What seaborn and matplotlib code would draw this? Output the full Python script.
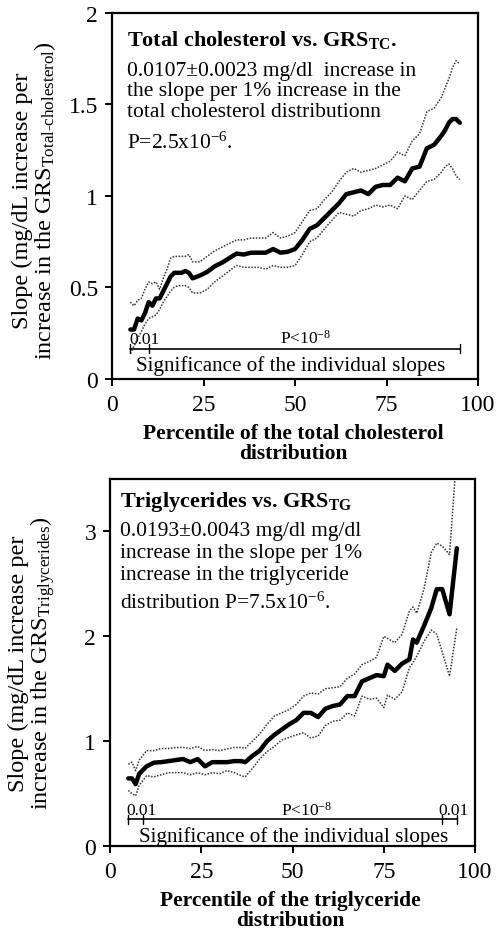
import numpy as np
import pandas as pd
import matplotlib
matplotlib.use("Agg")
import matplotlib.pyplot as plt
import seaborn as sns

# ---- data ----
# total cholesterol panel
tc_pct = [5, 6, 7, 8, 9, 10, 11, 12, 13, 14, 15, 16, 17, 18, 19, 20, 21, 22, 24, 26,
          28, 30, 32, 34, 36, 38, 40, 42, 44, 46, 48, 50, 52, 54, 56, 58, 60, 62, 64, 66,
          68, 70, 72, 74, 76, 78, 80, 82, 84, 86, 88, 90, 91, 92, 93, 94, 95]
tc_slope = [0.27, 0.27, 0.33, 0.32, 0.36, 0.42, 0.40, 0.44, 0.44, 0.48, 0.52, 0.56, 0.58, 0.58,
            0.58, 0.59, 0.58, 0.55, 0.565, 0.585, 0.615, 0.635, 0.66, 0.685, 0.68, 0.69, 0.69,
            0.69, 0.71, 0.69, 0.695, 0.71, 0.76, 0.82, 0.84, 0.88, 0.92, 0.96, 1.01, 1.02, 1.03,
            1.01, 1.05, 1.06, 1.06, 1.10, 1.08, 1.15, 1.16, 1.26, 1.28, 1.33, 1.36, 1.40, 1.42,
            1.42, 1.40]
tc_upper = [0.42, 0.40, 0.43, 0.44, 0.49, 0.53, 0.52, 0.53, 0.49, 0.55, 0.60, 0.66, 0.67, 0.67,
            0.67, 0.67, 0.68, 0.64, 0.64, 0.67, 0.70, 0.72, 0.74, 0.76, 0.76, 0.77, 0.77, 0.77,
            0.80, 0.77, 0.78, 0.80, 0.86, 0.92, 0.93, 0.98, 1.02, 1.08, 1.13, 1.15, 1.13, 1.14,
            1.15, 1.17, 1.19, 1.24, 1.22, 1.30, 1.34, 1.46, 1.48, 1.54, 1.59, 1.64, 1.70, 1.74,
            1.72]
tc_lower = [0.14, 0.18, 0.22, 0.26, 0.30, 0.33, 0.34, 0.35, 0.38, 0.42, 0.45, 0.48, 0.50, 0.51,
            0.51, 0.51, 0.50, 0.47, 0.47, 0.49, 0.53, 0.56, 0.59, 0.62, 0.61, 0.61, 0.61, 0.60,
            0.62, 0.61, 0.61, 0.62, 0.68, 0.75, 0.77, 0.82, 0.865, 0.91, 0.90, 0.89, 0.92, 0.93,
            0.95, 0.94, 0.95, 0.93, 1.00, 0.98, 1.03, 1.08, 1.09, 1.13, 1.16, 1.175, 1.15, 1.11,
            1.09]

# triglyceride panel
tg_pct = [5, 6, 7, 8, 10, 12, 14, 16, 18, 20, 22, 24, 26, 28, 30, 32, 34, 36, 37, 39,
          41, 43, 45, 47, 49, 51, 53, 55, 57, 59, 61, 63, 65, 67, 69, 71, 73, 75, 76, 78,
          80, 82, 83, 84, 86, 88, 89.5, 91, 93, 95]
tg_slope = [0.645, 0.645, 0.59, 0.69, 0.76, 0.795, 0.80, 0.81, 0.82, 0.83, 0.80, 0.83, 0.76,
            0.80, 0.80, 0.80, 0.81, 0.81, 0.80, 0.86, 0.91, 1.00, 1.06, 1.11, 1.16, 1.20, 1.27,
            1.27, 1.23, 1.31, 1.335, 1.35, 1.43, 1.43, 1.57, 1.60, 1.63, 1.62, 1.73, 1.67, 1.74,
            1.78, 1.97, 1.94, 2.10, 2.27, 2.45, 2.45, 2.21, 2.84]
tg_upper = [0.78, 0.80, 0.72, 0.82, 0.91, 0.91, 0.93, 0.93, 0.94, 0.94, 0.93, 0.95, 0.91, 0.92,
            0.91, 0.925, 0.94, 0.94, 0.93, 1.00, 1.07, 1.16, 1.24, 1.27, 1.30, 1.35, 1.43, 1.46,
            1.45, 1.50, 1.51, 1.52, 1.60, 1.64, 1.73, 1.76, 1.80, 2.00, 1.98, 1.94, 2.02, 2.24,
            2.28, 2.22, 2.45, 2.80, 2.89, 2.86, 2.78, 3.75]
tg_lower = [0.53, 0.50, 0.48, 0.58, 0.67, 0.66, 0.68, 0.70, 0.70, 0.70, 0.68, 0.70, 0.68, 0.70,
            0.69, 0.72, 0.70, 0.67, 0.66, 0.74, 0.83, 0.90, 0.95, 1.01, 1.035, 1.06, 1.08, 1.03,
            1.05, 1.15, 1.19, 1.20, 1.27, 1.24, 1.43, 1.40, 1.41, 1.32, 1.44, 1.40, 1.47, 1.70,
            1.75, 1.81, 1.95, 2.06, 2.02, 1.85, 1.62, 2.08]

# significance bar: span and the 0.01 / P<1e-8 boundaries
tc_sig_ticks = [5, 10, 95]
tg_sig_ticks = [5, 9, 91, 95]

sns.set_style("ticks")
plt.rcParams['font.family'] = ['Liberation Serif', 'DejaVu Serif']
plt.rcParams['mathtext.fontset'] = 'custom'
plt.rcParams['mathtext.rm'] = 'Liberation Serif'
plt.rcParams['mathtext.it'] = 'Liberation Serif:italic'
plt.rcParams['mathtext.bf'] = 'Liberation Serif:bold'
plt.rcParams['text.color'] = 'black'
plt.rcParams['axes.labelcolor'] = 'black'

fig = plt.figure(figsize=(4.98, 9.37), dpi=100)
ax1 = fig.add_axes([0.225, 0.5945, 0.735, 0.3906])
ax2 = fig.add_axes([0.221, 0.096, 0.733, 0.3917])


def draw_panel(ax, pct, slope, upper, lower, ymax, yticks):
    df = pd.DataFrame({'pct': pct, 'slope': slope, 'upper': upper, 'lower': lower})
    sns.lineplot(data=df, x='pct', y='upper', ax=ax, color='#333333', lw=1.1, ls=(0, (1, 1)))
    sns.lineplot(data=df, x='pct', y='lower', ax=ax, color='#333333', lw=1.1, ls=(0, (1, 1)))
    sns.lineplot(data=df, x='pct', y='slope', ax=ax, color='black', lw=3.2)
    ax.set_xlim(0, 100)
    ax.set_ylim(0, ymax)
    ax.set_xticks([0, 25, 50, 75, 100])
    ax.set_yticks(yticks)
    ax.set_yticklabels([('%g' % t) for t in yticks])
    for s in ax.spines.values():
        s.set_linewidth(1.6)
        s.set_color('black')
    ax.tick_params(length=5, width=1.4, labelsize=17, colors='black', direction='out')
    ax.tick_params(axis='x', pad=6)
    ax.tick_params(axis='y', pad=5)


def draw_sig(ax, ticks, ybar, labels):
    ax.plot([ticks[0], ticks[-1]], [ybar, ybar], color='black', lw=1.2)
    h = ax.get_ylim()[1] * 0.012
    for t in ticks:
        ax.plot([t, t], [ybar - h, ybar + h], color='black', lw=1.0)
    for (tx, ty, s, ha) in labels:
        ax.text(tx, ty, s, fontsize=12.5, ha=ha, va='bottom')


# top panel
draw_panel(ax1, tc_pct, tc_slope, tc_upper, tc_lower, 2, [0, 0.5, 1, 1.5, 2])
draw_sig(ax1, tc_sig_ticks, 0.165,
         [(4.6, 0.175, '0.01', 'left'), (53, 0.175, 'P<10$^{-8}$', 'center')])
ax1.text(48.8, 0.075, 'Significance of the individual slopes', fontsize=15.2,
         ha='center', va='center')
ax1.text(0.04, 0.929, r'Total cholesterol vs. GRS$_{\mathbf{TC}}$.', transform=ax1.transAxes,
         fontsize=16, fontweight='bold', va='center')
for y, s in [(0.844, '0.0107\u00b10.0023 mg/dl  increase in'),
             (0.787, 'the slope per 1% increase in the'),
             (0.730, 'total cholesterol distributionn'),
             (0.648, 'P=2.5x10$^{-6}$.')]:
    ax1.text(0.04, y, s, transform=ax1.transAxes, fontsize=15.5, va='center')
ax1.set_xlabel('Percentile of the total cholesterol\ndistribution', fontsize=15.5,
               fontweight='bold', linespacing=1.0)
ax1.set_ylabel('Slope (mg/dL increase per\nincrease in the GRS$_{\\mathrm{Total\u2010cholesterol}}$)',
               fontsize=17.5, linespacing=0.95)
ax1.yaxis.set_label_coords(-0.148, 0.49)
ax1.xaxis.set_label_coords(0.495, -0.12)

# bottom panel
draw_panel(ax2, tg_pct, tg_slope, tg_upper, tg_lower, 3.5, [0, 1, 2, 3])
draw_sig(ax2, tg_sig_ticks, 0.254,
         [(4.4, 0.265, '0.01', 'left'), (54, 0.265, 'P<10$^{-8}$', 'center'),
          (98.3, 0.265, '0.01', 'right')])
ax2.text(50.4, 0.095, 'Significance of the individual slopes', fontsize=15.2,
         ha='center', va='center')
ax2.text(0.027, 0.94, r'Triglycerides vs. GRS$_{\mathbf{TG}}$', transform=ax2.transAxes,
         fontsize=16, fontweight='bold', va='center')
for y, s in [(0.859, '0.0193\u00b10.0043 mg/dl mg/dl'),
             (0.800, 'increase in the slope per 1%'),
             (0.741, 'increase in the triglyceride'),
             (0.664, 'distribution P=7.5x10$^{-6}$.')]:
    ax2.text(0.027, y, s, transform=ax2.transAxes, fontsize=15.5, va='center')
ax2.set_xlabel('Percentile of the triglyceride\ndistribution', fontsize=15.5,
               fontweight='bold', linespacing=1.0)
ax2.set_ylabel('Slope (mg/dL increase per\nincrease in the GRS$_{\\mathrm{Triglycerides}}$)',
               fontsize=17.5, linespacing=0.95)
ax2.yaxis.set_label_coords(-0.145, 0.5)
ax2.xaxis.set_label_coords(0.495, -0.12)

fig.savefig('out.png', dpi=100)
